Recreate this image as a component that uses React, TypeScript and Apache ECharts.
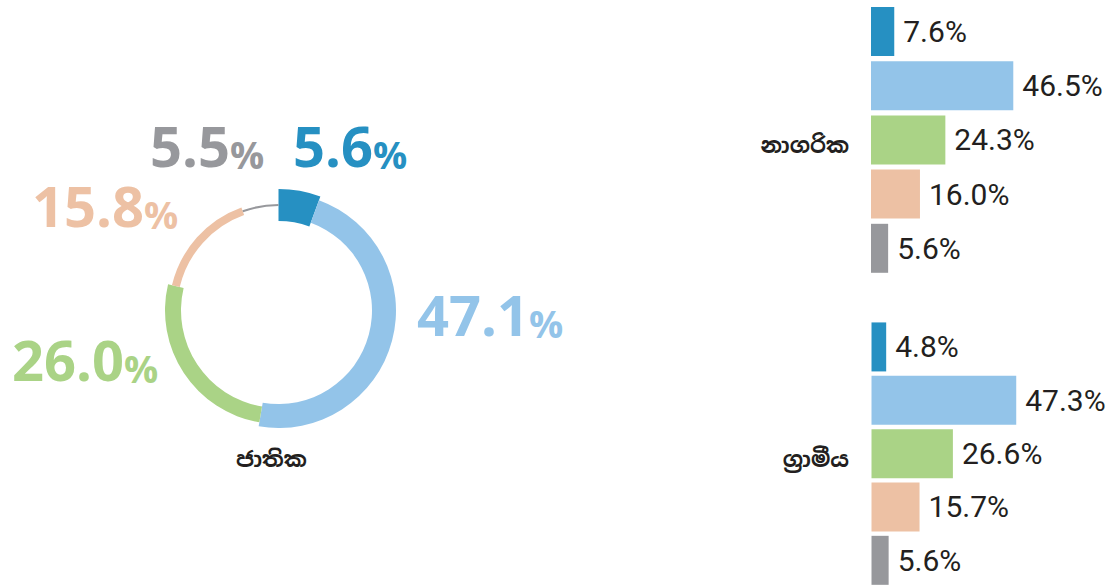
import React, { useEffect, useRef } from "react";
import * as echarts from "echarts";

// ---- data ----
const categories = ["c1", "c2", "c3", "c4", "c5"];
const nationalValues = [5.6, 47.1, 26.0, 15.8, 5.5];
const urbanValues = [7.6, 46.5, 24.3, 16.0, 5.6];
const ruralValues = [4.8, 47.3, 26.6, 15.7, 5.6];
const nationalName = "ජාතික";
const urbanName = "නාගරික";
const ruralName = "ග්‍රාමීය";

// ---- styles ----
const colors = ["#2690C2", "#93C4E9", "#AAD386", "#EDC1A4", "#97989C"];
const ringThickness = [32, 24, 16, 8, 2];
const ringCenter = [278.5, 310.5];
const ringRadius = 105.5;
const donutLabelPos = [
  [293, 173],
  [417, 342],
  [12, 387],
  [32, 233],
  [150, 173],
];
const barFont = "Roboto, 'Liberation Sans', sans-serif";
const bigFont = "'Open Sans', 'Noto Sans', sans-serif";
const sinhalaFont = "'Noto Sans Sinhala', 'Iskoola Pota', 'Noto Sans', sans-serif";

export default function App() {
  const ref = useRef<HTMLDivElement>(null);

  useEffect(() => {
    if (!ref.current) return;
    const chart = echarts.init(ref.current, null, { renderer: "svg" });

    const pieSeries = categories.map((_, i) => ({
      type: "pie",
      silent: true,
      center: ringCenter,
      radius: [ringRadius - ringThickness[i] / 2, ringRadius + ringThickness[i] / 2],
      startAngle: 90,
      clockwise: true,
      label: { show: false },
      labelLine: { show: false },
      emphasis: { disabled: true },
      data: nationalValues.map((v, j) => ({
        name: categories[j],
        value: v,
        itemStyle: { color: j === i ? colors[j] : "rgba(0,0,0,0)", borderWidth: 0 },
      })),
    }));

    const barSeries = (vals: number[], idx: number) => ({
      type: "bar",
      xAxisIndex: idx,
      yAxisIndex: idx,
      silent: true,
      barWidth: 49,
      data: vals.map((v, j) => ({ value: v, itemStyle: { color: colors[j] } })),
      label: {
        show: true,
        position: "right",
        distance: 9,
        fontFamily: barFont,
        fontSize: 30,
        color: "#231F20",
        formatter: (p: any) => Number(p.value).toFixed(1) + "%",
      },
    });

    const donutTexts = nationalValues.map((v, i) => ({
      type: "text",
      x: donutLabelPos[i][0],
      y: donutLabelPos[i][1],
      silent: true,
      style: {
        text: `{a|${v.toFixed(1)}}{b|%}`,
        textAlign: "left",
        textVerticalAlign: "bottom",
        rich: {
          a: { fontFamily: bigFont, fontWeight: 700, fontSize: 56, fill: colors[i], color: colors[i], verticalAlign: "bottom", lineHeight: 56 },
          b: { fontFamily: bigFont, fontWeight: 700, fontSize: 38, fill: colors[i], color: colors[i], verticalAlign: "bottom", lineHeight: 56 },
        },
      },
    }));

    const option: any = {
      animation: false,
      grid: [
        { left: 871, top: 4.4, width: 183.6, height: 271 },
        { left: 871.5, top: 320.25, width: 183.6, height: 272.5 },
      ],
      xAxis: [
        { gridIndex: 0, type: "value", min: 0, max: 60, show: false },
        { gridIndex: 1, type: "value", min: 0, max: 60, show: false },
      ],
      yAxis: [
        { gridIndex: 0, type: "category", data: categories, inverse: true, show: false },
        { gridIndex: 1, type: "category", data: categories, inverse: true, show: false },
      ],
      series: [...pieSeries, barSeries(urbanValues, 0), barSeries(ruralValues, 1)],
      graphic: [
        ...donutTexts,
        {
          type: "text",
          x: 271.5,
          y: 459,
          silent: true,
          style: { text: nationalName, textAlign: "center", textVerticalAlign: "middle", fontFamily: sinhalaFont, fontWeight: 700, fontSize: 22, fill: "#231F20" },
        },
        {
          type: "text",
          x: 849,
          y: 144.5,
          silent: true,
          style: { text: urbanName, textAlign: "right", textVerticalAlign: "middle", fontFamily: sinhalaFont, fontWeight: 700, fontSize: 22, fill: "#231F20" },
        },
        {
          type: "text",
          x: 849,
          y: 459,
          silent: true,
          style: { text: ruralName, textAlign: "right", textVerticalAlign: "middle", fontFamily: sinhalaFont, fontWeight: 700, fontSize: 22, fill: "#231F20" },
        },
      ],
    };
    chart.setOption(option);
    return () => chart.dispose();
  }, []);

  return (
    <div
      ref={ref}
      style={{ position: "fixed", left: 0, top: 0, width: 1108, height: 587, background: "#fff" }}
    />
  );
}
